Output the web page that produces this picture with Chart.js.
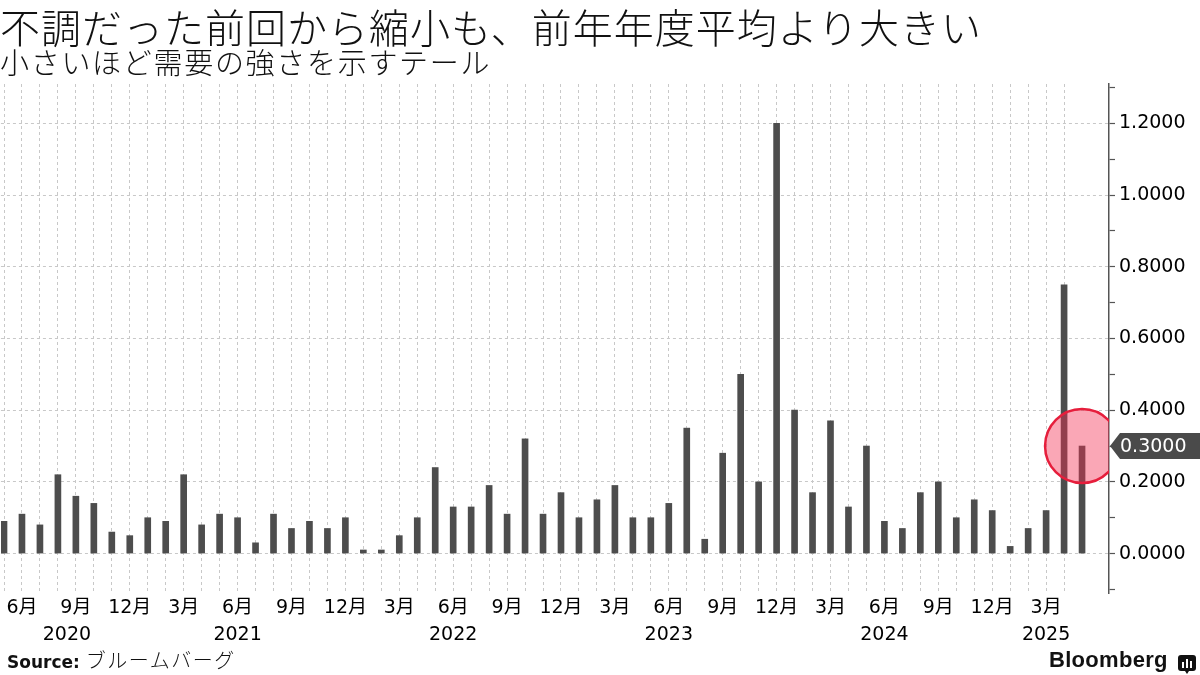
<!DOCTYPE html>
<html>
<head>
<meta charset="utf-8">
<script src="https://cdn.jsdelivr.net/npm/chart.js@4/dist/chart.umd.min.js"></script>
<style>
  html, body { margin: 0; padding: 0; background: #fff; }
  #wrap { position: relative; width: 1200px; height: 675px; overflow: hidden; }
  #tail-chart { position: absolute; left: 0; top: 0; }
  .title { position: absolute; left: 0; top: 4px; font: 300 40px/44px "Noto Sans CJK JP"; letter-spacing: 1px; color: #111; white-space: nowrap; }
  .subtitle { position: absolute; left: 0; top: 44px; font: 300 29px/34px "Noto Sans CJK JP"; letter-spacing: 1.7px; color: #111; white-space: nowrap; }
  .source { position: absolute; left: 7px; top: 648px; font: bold 17px/24px "DejaVu Sans"; color: #111; white-space: nowrap; }
  .source span { font: 300 20px/24px "Noto Sans CJK JP"; letter-spacing: 1.5px; margin-left: 6px; }
  .logo { position: absolute; left: 1049px; top: 646px; font: bold 22px/28px "Liberation Sans"; letter-spacing: 0.3px; color: #111; }
  .icon { position: absolute; left: 1178px; top: 655px; }
</style>
</head>
<body>
<div id="wrap">
  <canvas id="tail-chart" width="1200" height="675"></canvas>
  <div class="title">不調だった前回から縮小も、前年年度平均より大きい</div>
  <div class="subtitle">小さいほど需要の強さを示すテール</div>
  <div class="source">Source:<span>ブルームバーグ</span></div>
  <div class="logo">Bloomberg</div>
  <svg class="icon" width="18" height="20" viewBox="0 0 18 20">
    <rect x="0" y="0" width="18" height="16" rx="3" fill="#111"/>
    <path d="M7 16 L9 19 L11 16 Z" fill="#111"/>
    <rect x="4" y="7" width="2" height="6" fill="#fff"/>
    <rect x="8" y="4" width="2" height="9" fill="#fff"/>
    <rect x="12" y="6" width="2" height="7" fill="#fff"/>
  </svg>
</div>
<script>
// canvas and context
let canvas = document.querySelector('#tail-chart')
let context = canvas.getContext('2d')

// data: auction month and tail
let months = [
  '2020-05', '2020-06', '2020-07', '2020-08', '2020-09', '2020-10', '2020-11', '2020-12',
  '2021-01', '2021-02', '2021-03', '2021-04', '2021-05', '2021-06', '2021-07', '2021-08', '2021-09', '2021-10', '2021-11', '2021-12',
  '2022-01', '2022-02', '2022-03', '2022-04', '2022-05', '2022-06', '2022-07', '2022-08', '2022-09', '2022-10', '2022-11', '2022-12',
  '2023-01', '2023-02', '2023-03', '2023-04', '2023-05', '2023-06', '2023-07', '2023-08', '2023-09', '2023-10', '2023-11', '2023-12',
  '2024-01', '2024-02', '2024-03', '2024-04', '2024-05', '2024-06', '2024-07', '2024-08', '2024-09', '2024-10', '2024-11', '2024-12',
  '2025-01', '2025-02', '2025-03', '2025-04', '2025-05'
]

let tails = [
  0.09, 0.11, 0.08, 0.22, 0.16, 0.14, 0.06, 0.05,
  0.10, 0.09, 0.22, 0.08, 0.11, 0.10, 0.03, 0.11, 0.07, 0.09, 0.07, 0.10,
  0.01, 0.01, 0.05, 0.10, 0.24, 0.13, 0.13, 0.19, 0.11, 0.32, 0.11, 0.17,
  0.10, 0.15, 0.19, 0.10, 0.10, 0.14, 0.35, 0.04, 0.28, 0.50, 0.20, 1.20,
  0.40, 0.17, 0.37, 0.13, 0.30, 0.09, 0.07, 0.17, 0.20, 0.10, 0.15, 0.12,
  0.02, 0.07, 0.12, 0.75, 0.30
]

// months that get a tick label
let labelMonths = [3, 6, 9, 12]

// y ticks every 0.1, labelled every 0.2
let yTicks = [-0.1, 0, 0.1, 0.2, 0.3, 0.4, 0.5, 0.6, 0.7, 0.8, 0.9, 1.0, 1.1, 1.2, 1.3]

let latest = tails[tails.length - 1]

function isMajor(v) {
  return Math.round(v * 10) % 2 === 0
}

Chart.defaults.font.family = '"DejaVu Sans", "Noto Sans CJK JP", sans-serif'

// year captions under the month labels
let yearLabels = {
  id: 'yearLabels',
  afterDraw(chart) {
    let ctx = chart.ctx
    let xs = chart.scales.x
    let years = [...new Set(months.map((m) => m.slice(0, 4)))]
    ctx.save()
    ctx.font = '19px "DejaVu Sans"'
    ctx.fillStyle = '#000'
    ctx.textAlign = 'center'
    ctx.textBaseline = 'middle'
    years.forEach(function(year) {
      let idx = []
      months.forEach(function(m, i) { if (m.startsWith(year)) idx.push(i) })
      let pos = idx.length === 12 ? idx[5] : (idx[0] + idx[idx.length - 1]) / 2
      ctx.fillText(year, xs.getPixelForValue(pos), 635)
    })
    ctx.restore()
  }
}

// circle on the latest bar and value tag on the axis
let highlight = {
  id: 'highlight',
  afterDatasetsDraw(chart) {
    let {ctx, chartArea, scales} = chart
    let last = tails.length - 1
    let cx = scales.x.getPixelForValue(last)
    let cy = scales.y.getPixelForValue(latest)
    ctx.save()
    ctx.beginPath()
    ctx.rect(chartArea.left, chartArea.top, chartArea.right - chartArea.left, chartArea.bottom - chartArea.top)
    ctx.clip()
    ctx.beginPath()
    ctx.arc(cx, cy, 37, 0, Math.PI * 2)
    ctx.fillStyle = 'rgba(242, 45, 80, 0.42)'
    ctx.fill()
    ctx.lineWidth = 2.5
    ctx.strokeStyle = '#e61e3c'
    ctx.stroke()
    ctx.restore()
  },
  afterDraw(chart) {
    let {ctx, chartArea, scales} = chart
    let y = scales.y.getPixelForValue(latest)
    let x0 = chartArea.right + 1
    ctx.save()
    ctx.fillStyle = '#4a4a4a'
    ctx.beginPath()
    ctx.moveTo(x0, y)
    ctx.lineTo(x0 + 10, y - 13)
    ctx.lineTo(chart.width, y - 13)
    ctx.lineTo(chart.width, y + 13)
    ctx.lineTo(x0 + 10, y + 13)
    ctx.closePath()
    ctx.fill()
    ctx.font = '19px "DejaVu Sans"'
    ctx.fillStyle = '#fff'
    ctx.textBaseline = 'middle'
    ctx.fillText(latest.toFixed(4), x0 + 10, y + 1)
    ctx.restore()
  }
}

// create chart
let chart = new Chart(context, {
  type: 'bar',
  data: {
    datasets: [{
      data: tails.map((v, i) => ({x: i, y: v})),
      backgroundColor: '#4d4d4d',
      barThickness: 6
    }]
  },
  options: {
    responsive: false,
    animation: false,
    devicePixelRatio: 1,
    layout: {padding: {top: 84, left: 0, right: 0, bottom: 0}},
    plugins: {legend: {display: false}, tooltip: {enabled: false}},
    scales: {
      x: {
        type: 'linear',
        offset: false,
        min: -0.17,
        max: 61.5,
        afterBuildTicks: function(scale) {
          scale.ticks = months.slice(0, -1).map((m, i) => ({value: i}))
        },
        afterFit: function(scale) { scale.height = 82 },
        grid: {offset: false, color: '#c8c8c8', lineWidth: 1, drawTicks: false},
        border: {display: false, dash: [3, 3]},
        ticks: {
          padding: 4,
          autoSkip: false,
          maxRotation: 0,
          color: '#000',
          font: {size: 19},
          callback: function(v) {
            let m = Number(months[v].slice(5))
            return labelMonths.includes(m) ? m + '月' : ''
          }
        }
      },
      y: {
        position: 'right',
        min: -0.11,
        max: 1.31,
        afterBuildTicks: function(scale) {
          scale.ticks = yTicks.map((v) => ({value: v}))
        },
        afterFit: function(scale) { scale.width = 91 },
        grid: {
          color: (c) => isMajor(c.tick.value) ? '#c8c8c8' : 'rgba(0,0,0,0)',
          tickColor: '#555',
          tickLength: 6,
          tickWidth: 1.2,
          tickBorderDash: []
        },
        border: {display: true, color: '#555', width: 1.5, dash: [3, 3]},
        ticks: {
          padding: 4,
          color: '#000',
          font: {size: 19},
          callback: (v) => isMajor(v) ? v.toFixed(4) : ''
        }
      }
    }
  },
  plugins: [yearLabels, highlight]
})
</script>
</body>
</html>
